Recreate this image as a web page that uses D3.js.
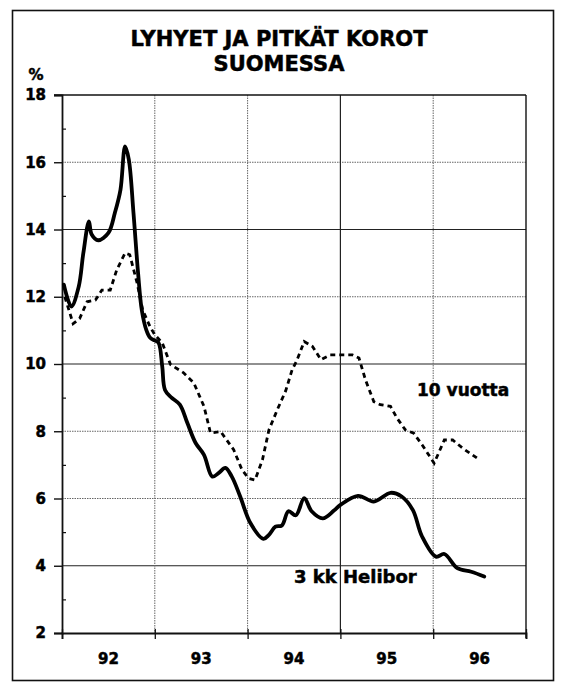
<!DOCTYPE html>
<html><head><meta charset="utf-8">
<script src="https://cdn.jsdelivr.net/npm/d3@7"></script>
<style>html,body{margin:0;padding:0;background:#fff}svg{display:block}text{paint-order:stroke}</style>
</head><body>
<script>
// ---- data ----
const yearLabels = ["92","93","94","95","96"];
const yTicks = [2,4,6,8,10,12,14,16,18];
const heliborDates = [1992.02,1992.10,1992.18,1992.23,1992.29,1992.32,1992.39,1992.50,1992.57,1992.63,1992.68,1992.72,1992.77,1992.82,1992.86,1992.91,1992.95,1993.00,1993.04,1993.08,1993.11,1993.18,1993.27,1993.35,1993.44,1993.53,1993.62,1993.69,1993.76,1993.83,1993.92,1994.03,1994.17,1994.23,1994.30,1994.37,1994.44,1994.52,1994.61,1994.69,1994.81,1994.93,1995.00,1995.19,1995.36,1995.54,1995.66,1995.78,1995.88,1996.03,1996.12,1996.26,1996.41,1996.55];
const heliborValues = [12.36,11.71,12.3,13.3,14.24,13.85,13.68,13.9,14.5,15.18,16.47,16.08,14.5,12.7,11.6,11.0,10.78,10.7,10.63,9.93,9.23,9.0,8.79,8.25,7.65,7.3,6.65,6.76,6.91,6.65,6.06,5.27,4.8,4.92,5.16,5.2,5.62,5.5,6.01,5.62,5.41,5.64,5.81,6.08,5.91,6.17,6.06,5.66,4.87,4.27,4.35,3.93,3.82,3.68];
const bondDates = [1992.03,1992.12,1992.19,1992.27,1992.36,1992.43,1992.52,1992.59,1992.68,1992.73,1992.81,1992.87,1992.95,1993.00,1993.08,1993.17,1993.31,1993.42,1993.53,1993.60,1993.71,1993.85,1993.94,1994.01,1994.08,1994.16,1994.23,1994.32,1994.41,1994.48,1994.53,1994.61,1994.70,1994.79,1994.89,1995.00,1995.13,1995.20,1995.27,1995.36,1995.43,1995.54,1995.61,1995.70,1995.79,1995.88,1996.01,1996.12,1996.21,1996.32,1996.50];
const bondValues = [12.0,11.2,11.35,11.85,11.9,12.2,12.2,12.8,13.3,13.25,12.4,11.6,11.1,10.87,10.63,9.98,9.74,9.44,8.74,7.95,7.99,7.45,6.85,6.6,6.55,7.15,8.04,8.64,9.2,9.83,10.1,10.67,10.52,10.13,10.27,10.27,10.27,10.18,9.53,8.88,8.79,8.74,8.39,8.04,7.94,7.6,7.05,7.74,7.74,7.49,7.15];
const titleLines = ["LYHYET JA PITKÄT KOROT","SUOMESSA"];
const seriesLabels = ["10 vuotta","3 kk Helibor"];
const solidGridY = [4,10,14];
const solidGridYear = [1995];

// ---- layout ----
const W = 562, H = 683;
const FONT = "'DejaVu Sans', sans-serif";
const x = d3.scaleLinear().domain([1992,1997]).range([62,526]);
const y = d3.scaleLinear().domain([2,18]).range([633,95]);

const svg = d3.select("body").append("svg").attr("width",W).attr("height",H);
svg.append("rect").attr("width",W).attr("height",H).attr("fill","#fff");

function bold(sel, size){
  return sel.attr("font-family",FONT).attr("font-weight","bold").attr("font-size",size)
    .attr("fill","#000").attr("stroke","#000").attr("stroke-width",0.5);
}

// outer frame
svg.append("rect").attr("x",12.5).attr("y",10.5).attr("width",541).attr("height",670)
  .attr("fill","none").attr("stroke","#111").attr("stroke-width",1.6);

// title
bold(svg.append("g").selectAll("text").data(titleLines).join("text")
  .attr("x",279).attr("y",(d,i)=>46+i*25)
  .attr("text-anchor","middle"),21).text(d=>d);

// % label
bold(svg.append("text").attr("x",36).attr("y",80).attr("text-anchor","middle"),15).text("%");

// horizontal gridlines
svg.append("g").selectAll("line").data(yTicks.filter(v=>v>2 && v<18)).join("line")
  .attr("x1",x(1992)).attr("x2",x(1997))
  .attr("y1",d=>y(d)).attr("y2",d=>y(d))
  .attr("stroke",d=>solidGridY.includes(d)?"#222":"#666")
  .attr("stroke-width",d=>solidGridY.includes(d)?1.2:1)
  .attr("stroke-dasharray",d=>solidGridY.includes(d)?null:"1.5,1");

// vertical gridlines
const years = d3.range(1993,1997);
svg.append("g").selectAll("line").data(years).join("line")
  .attr("x1",d=>x(d)).attr("x2",d=>x(d))
  .attr("y1",y(18)).attr("y2",y(2))
  .attr("stroke",d=>solidGridYear.includes(d)?"#222":"#666")
  .attr("stroke-width",d=>solidGridYear.includes(d)?1.2:1)
  .attr("stroke-dasharray",d=>solidGridYear.includes(d)?null:"1.5,1");

// plot box top and right
svg.append("line").attr("x1",x(1992)-8).attr("x2",x(1997)).attr("y1",y(18)).attr("y2",y(18))
  .attr("stroke","#111").attr("stroke-width",1.4);
svg.append("line").attr("x1",x(1997)).attr("x2",x(1997)).attr("y1",y(18)).attr("y2",y(2)+5)
  .attr("stroke","#111").attr("stroke-width",1.4);

// y axis
const yAxis = d3.axisLeft(y).tickValues(yTicks).tickSize(8).tickPadding(8).tickFormat(d3.format("d"));
const gyA = svg.append("g").attr("transform",`translate(${x(1992)},0)`).call(yAxis);
gyA.select(".domain").attr("stroke","#111").attr("stroke-width",1.8);
gyA.selectAll(".tick line").attr("stroke","#111").attr("stroke-width",1.4);
bold(gyA.selectAll(".tick text"),15);
// minor inward ticks
const yMinor = d3.axisRight(y).tickValues(d3.range(3,18,2)).tickSize(4).tickFormat("");
const gyM = svg.append("g").attr("transform",`translate(${x(1992)},0)`).call(yMinor);
gyM.select(".domain").remove();
gyM.selectAll(".tick line").attr("stroke","#111").attr("stroke-width",1.2);

// x axis
const xAxis = d3.axisBottom(x).tickValues(d3.range(1992,1998)).tickSize(6).tickFormat("");
const gxA = svg.append("g").attr("transform",`translate(0,${y(2)})`).call(xAxis);
gxA.select(".domain").attr("stroke","#111").attr("stroke-width",1.8);
gxA.selectAll(".tick line").attr("stroke","#111").attr("stroke-width",1.3).attr("y1",-4);
bold(svg.append("g").selectAll("text").data(yearLabels).join("text")
  .attr("x",(d,i)=>x(1992+i+0.5)).attr("y",664)
  .attr("text-anchor","middle"),15).text(d=>d);

// lines
const bond = bondDates.map((d,i)=>[d,bondValues[i]]);
const hel = heliborDates.map((d,i)=>[d,heliborValues[i]]);
svg.append("path").datum(bond)
  .attr("d",d3.line().x(d=>x(d[0])).y(d=>y(d[1])).curve(d3.curveLinear))
  .attr("fill","none").attr("stroke","#000").attr("stroke-width",2.8)
  .attr("stroke-dasharray","5,4");
svg.append("path").datum(hel)
  .attr("d",d3.line().x(d=>x(d[0])).y(d=>y(d[1])).curve(d3.curveCatmullRom.alpha(0.5)))
  .attr("fill","none").attr("stroke","#000").attr("stroke-width",3.8)
  .attr("stroke-linejoin","round").attr("stroke-linecap","round");

// series labels
bold(svg.append("text").attr("x",417).attr("y",396),17).text(seriesLabels[0]);
bold(svg.append("text").attr("x",294).attr("y",583),18).text(seriesLabels[1]);
</script>
</body></html>
